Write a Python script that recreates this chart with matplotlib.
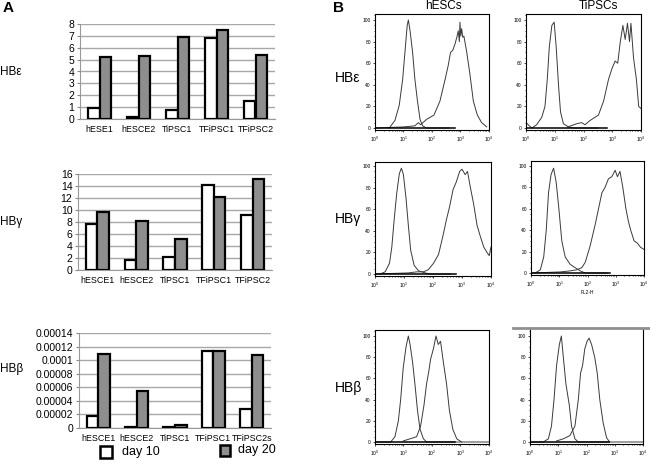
import matplotlib
matplotlib.use("Agg")
import matplotlib.pyplot as plt
import numpy as np
from matplotlib.ticker import FixedLocator, LogLocator, NullFormatter, MultipleLocator

plt.rcParams["font.family"] = ["Liberation Sans", "DejaVu Sans"]

W, H = 650, 466

# ---- panel A data (relative expression) ----
lines = ["hESE1", "hESCE2", "TiPSC1", "TFiPSC1", "TFiPSC2"]
lines_g = ["hESCE1", "hESCE2", "TiPSC1", "TFiPSC1", "TFiPSC2"]
lines_b = ["hESCE1", "hESCE2", "TiPSC1", "TFiPSC1", "TFiPSC2s"]

eps_day10 = [0.9, 0.15, 0.8, 6.8, 1.5]
eps_day20 = [5.2, 5.3, 6.9, 7.5, 5.4]
gam_day10 = [7.7, 1.6, 2.1, 14.1, 9.2]
gam_day20 = [9.6, 8.2, 5.1, 12.1, 15.2]
bet_day10 = [0.000018, 0.000001, 0.000002, 0.000114, 0.000028]
bet_day20 = [0.000109, 0.000055, 0.000005, 0.000114, 0.000108]

eps_ticks = [0, 1, 2, 3, 4, 5, 6, 7, 8]
gam_ticks = [0, 2, 4, 6, 8, 10, 12, 14, 16]
bet_ticks = [0, 0.00002, 0.00004, 0.00006, 0.00008, 0.0001, 0.00012, 0.00014]
bet_tick_labels = ["0", "0.00002", "0.00004", "0.00006", "0.00008",
                   "0.0001", "0.00012", "0.00014"]

# ---- panel B data (flow histograms, x = log10 FL2-H, y = counts) ----
# hESCs HBe
h1_ctrl_x = [0.50, 0.70, 0.85, 0.97, 1.05, 1.13, 1.17, 1.23, 1.32, 1.40, 1.49, 1.58, 1.67, 1.81, 2.6]
h1_ctrl_y = [0, 7, 21, 45, 70, 95, 100, 90, 70, 45, 25, 8, 2, 0, 0]
h1_samp_x = [0.0, 1.0, 1.40, 1.52, 1.60, 1.81, 2.07, 2.28, 2.46, 2.57, 2.65, 2.73, 2.81, 2.88,
             2.92, 2.96, 2.98, 3.01, 3.04, 3.08, 3.12, 3.22, 3.33, 3.45, 3.59, 3.74, 3.92]
h1_samp_y = [0, 1, 2, 5, 3, 8, 12, 25, 45, 58, 70, 72, 78, 85, 90, 80, 98, 85, 92, 84, 85,
             70, 50, 25, 12, 5, 1]
# TiPSCs HBe
t1_ctrl_x = [0.0, 0.2, 0.37, 0.55, 0.66, 0.74, 0.81, 0.90, 0.98, 1.05, 1.13, 1.20, 1.30, 1.48, 1.65, 2.5]
t1_ctrl_y = [5, 0, 3, 10, 20, 45, 75, 95, 98, 75, 40, 15, 4, 1, 0, 0]
t1_samp_x = [1.45, 1.77, 1.94, 2.05, 2.23, 2.52, 2.70, 2.87, 2.99, 3.10, 3.19, 3.28, 3.37,
             3.45, 3.53, 3.60, 3.65, 3.74, 3.84, 3.92, 4.0]
t1_samp_y = [1, 4, 5, 3, 7, 12, 25, 45, 55, 62, 60, 80, 95, 82, 97, 80, 97, 65, 45, 20, 18]
# hESCs HBg
h2_ctrl_x = [0.17, 0.35, 0.50, 0.58, 0.66, 0.75, 0.84, 0.91, 0.98, 1.07, 1.15, 1.23, 1.35,
             1.50, 1.73, 1.90, 2.6]
h2_ctrl_y = [0, 2, 10, 25, 50, 75, 93, 98, 92, 70, 45, 22, 8, 3, 1, 0, 0]
h2_samp_x = [0.0, 1.15, 1.44, 1.67, 1.84, 2.02, 2.19, 2.34, 2.46, 2.57, 2.69, 2.80, 2.92,
             3.00, 3.11, 3.19, 3.29, 3.40, 3.52, 3.63, 3.75, 3.86, 3.94, 4.0]
h2_samp_y = [0, 1, 2, 2, 4, 10, 18, 35, 50, 62, 78, 85, 95, 97, 92, 95, 80, 65, 45, 35,
             25, 20, 17, 25]
# TiPSCs HBg
t2_ctrl_x = [0.15, 0.33, 0.45, 0.54, 0.62, 0.71, 0.80, 0.89, 0.98, 1.09, 1.21, 1.39, 1.62,
             1.74, 1.92, 2.7]
t2_ctrl_y = [0, 3, 15, 40, 75, 92, 98, 85, 62, 30, 15, 8, 4, 2, 0, 0]
t2_samp_x = [0.0, 1.04, 1.39, 1.62, 1.80, 1.92, 2.09, 2.27, 2.39, 2.51, 2.62, 2.74, 2.86,
             2.98, 3.06, 3.15, 3.25, 3.36, 3.45, 3.53, 3.65, 3.76, 3.88, 4.0]
t2_samp_y = [0, 1, 2, 3, 5, 10, 25, 45, 60, 75, 80, 88, 90, 96, 90, 95, 80, 60, 48, 40,
             30, 28, 24, 22]
# hESCs HBb
h3_ctrl_x = [0.0, 0.55, 0.70, 0.82, 0.90, 0.99, 1.09, 1.17, 1.23, 1.32, 1.40, 1.49, 1.58,
             1.70, 1.81, 4.0]
h3_ctrl_y = [0, 0, 5, 20, 40, 70, 90, 100, 92, 75, 55, 30, 12, 3, 0, 0]
h3_samp_x = [0.99, 1.23, 1.46, 1.60, 1.72, 1.81, 1.89, 1.95, 2.05, 2.14, 2.22, 2.30, 2.40,
             2.51, 2.61, 2.73, 2.87, 3.04]
h3_samp_y = [1, 3, 5, 15, 35, 55, 67, 78, 88, 100, 92, 95, 75, 55, 30, 12, 3, 0]
# TiPSCs HBb
t3_ctrl_x = [0.0, 0.47, 0.65, 0.76, 0.85, 0.94, 1.04, 1.11, 1.18, 1.27, 1.39, 1.47, 1.59,
             1.71, 4.0]
t3_ctrl_y = [0, 0, 3, 15, 40, 72, 92, 100, 80, 55, 35, 15, 3, 0, 0]
t3_samp_x = [0.94, 1.18, 1.41, 1.59, 1.71, 1.79, 1.86, 1.94, 2.02, 2.09, 2.18, 2.29, 2.38,
             2.47, 2.59, 2.71, 2.82]
t3_samp_y = [1, 3, 6, 15, 40, 65, 72, 88, 95, 98, 92, 80, 65, 40, 18, 4, 0]


def px_axes(fig, left, top, right, bottom):
    return fig.add_axes([left / W, 1 - bottom / H, (right - left) / W, (bottom - top) / H])


def bar_panel(fig, box, labels, d10, d20, ticks, tick_labels=None):
    ax = px_axes(fig, *box)
    x = np.arange(len(labels)) + 0.5
    w = 0.3
    ax.bar(x - w / 2, d10, w, color="white", edgecolor="black", linewidth=1.6, zorder=3)
    ax.bar(x + w / 2, d20, w, color="#8e8e8e", edgecolor="black", linewidth=1.6, zorder=3)
    ax.set_xlim(0, len(labels))
    ax.set_ylim(ticks[0], ticks[-1])
    ax.yaxis.set_major_locator(FixedLocator(ticks))
    if tick_labels is not None:
        ax.set_yticklabels(tick_labels)
    ax.set_xticks(x)
    ax.set_xticklabels(labels, fontsize=6.4)
    ax.tick_params(axis="x", length=0, pad=4)
    ax.tick_params(axis="y", labelsize=7.5, length=2, color="#888888", pad=2)
    ax.grid(axis="y", color="#a8a8a8", linewidth=1.0, zorder=0)
    for s in ["top", "right"]:
        ax.spines[s].set_visible(False)
    for s in ["left", "bottom"]:
        ax.spines[s].set_color("#999999")
    return ax


def hist_panel(fig, left, right, y100, y0, top, curves):
    scale = (y0 - y100) / 100.0
    ymax = 100 + (y100 - top) / scale
    ymin = -2
    bottom = y0 - ymin * scale
    ax = px_axes(fig, left, top, right, bottom)
    for cx, cy in curves:
        ax.plot(10 ** np.array(cx), cy, color="#3a3a3a", linewidth=0.7)
    ax.plot([1, 10 ** 2.8], [0, 0], color="black", linewidth=1.1)
    ax.set_xscale("log")
    ax.set_xlim(1, 1e4)
    ax.set_ylim(ymin, ymax)
    ax.xaxis.set_major_locator(LogLocator(base=10, numticks=10))
    ax.xaxis.set_minor_locator(LogLocator(base=10, subs=np.arange(2, 10), numticks=10))
    ax.xaxis.set_minor_formatter(NullFormatter())
    ax.yaxis.set_major_locator(MultipleLocator(20))
    ax.yaxis.set_minor_locator(MultipleLocator(5))
    ax.tick_params(which="both", labelsize=3.5, length=1.5, width=0.5, pad=1.5)
    ax.tick_params(which="minor", length=1)
    for s in ax.spines.values():
        s.set_linewidth(0.8)
    return ax


fig = plt.figure(figsize=(6.5, 4.66), dpi=100)

bar_panel(fig, (80, 24, 275, 119), lines, eps_day10, eps_day20, eps_ticks)
bar_panel(fig, (78, 174, 272, 270), lines_g, gam_day10, gam_day20, gam_ticks)
bar_panel(fig, (79, 333, 271, 428), lines_b, bet_day10, bet_day20, bet_ticks, bet_tick_labels)

fig.text(3 / W, 1 - 8 / H, "A", fontsize=11, fontweight="bold", va="center")
fig.text(333 / W, 1 - 8 / H, "B", fontsize=11, fontweight="bold", va="center")

for y, lab in [(72, "HBε"), (222, "HBγ"), (369, "HBβ")]:
    fig.text(0, 1 - y / H, lab, fontsize=8.5, va="center", ha="left")
for y, lab in [(78, "HBε"), (219, "HBγ"), (388, "HBβ")]:
    fig.text(335 / W, 1 - y / H, lab, fontsize=10, va="center", ha="left")

fig.text(443 / W, 1 - 6 / H, "hESCs", fontsize=8.5, ha="center", va="center")
fig.text(598 / W, 1 - 6 / H, "TiPSCs", fontsize=8.5, ha="center", va="center")

# legend for panel A
lax = px_axes(fig, 0, 436, 330, 466)
lax.set_xlim(0, 330)
lax.set_ylim(466, 436)
lax.axis("off")
lax.add_patch(plt.Rectangle((100, 446), 12, 12, facecolor="white", edgecolor="black", linewidth=1.8))
lax.add_patch(plt.Rectangle((220, 445), 10, 11, facecolor="#8e8e8e", edgecolor="black", linewidth=1.8))
lax.text(122, 452, "day 10", fontsize=9, va="center")
lax.text(238, 450, "day 20", fontsize=9, va="center")

hist_panel(fig, 375, 489, 20, 128, 14, [(h1_ctrl_x, h1_ctrl_y), (h1_samp_x, h1_samp_y)])
hist_panel(fig, 526, 641, 20, 128, 14, [(t1_ctrl_x, t1_ctrl_y), (t1_samp_x, t1_samp_y)])
hist_panel(fig, 375, 491, 166, 274, 162, [(h2_ctrl_x, h2_ctrl_y), (h2_samp_x, h2_samp_y)])
ax = hist_panel(fig, 531, 644, 166, 273, 161, [(t2_ctrl_x, t2_ctrl_y), (t2_samp_x, t2_samp_y)])
ax.set_xlabel("FL2-H", fontsize=3.5, labelpad=1)
hist_panel(fig, 375, 489, 336, 442, 330, [(h3_ctrl_x, h3_ctrl_y), (h3_samp_x, h3_samp_y)])
hist_panel(fig, 530, 643, 336, 442, 328, [(t3_ctrl_x, t3_ctrl_y), (t3_samp_x, t3_samp_y)])

# grey rule above the last histogram
fig.add_artist(plt.Line2D([513 / W, 1.0], [1 - 328 / H, 1 - 328 / H], color="#909090", linewidth=2))

fig.savefig("out.png", dpi=100)
